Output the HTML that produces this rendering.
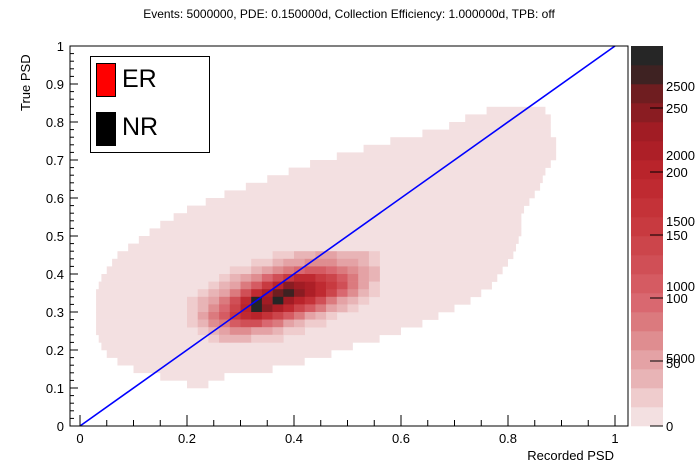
<!DOCTYPE html>
<html><head><meta charset="utf-8"><style>
body{margin:0;background:#fff;}
svg{display:block;font-family:"Liberation Sans",sans-serif;}
</style></head><body>
<svg id="c" width="698" height="474" xmlns="http://www.w3.org/2000/svg"></svg>
<script>
// envelope rows (light region): y value, xmin, xmax
const envY=[0.11,0.13,0.15,0.17,0.19,0.21,0.23,0.25,0.27,0.29,0.31,0.33,0.35,0.37,0.39,0.41,0.43,0.45,0.47,0.49,0.51,0.53,0.55,0.57,0.59,0.61,0.63,0.65,0.67,0.69,0.71,0.73,0.75,0.77,0.79,0.81,0.83];
const envMin=[0.20,0.15,0.10,0.07,0.05,0.04,0.035,0.03,0.03,0.03,0.03,0.03,0.03,0.035,0.04,0.05,0.06,0.07,0.09,0.11,0.13,0.15,0.175,0.20,0.235,0.27,0.31,0.35,0.39,0.43,0.48,0.53,0.58,0.64,0.69,0.72,0.76];
const envMax=[0.24,0.27,0.36,0.42,0.47,0.51,0.56,0.60,0.64,0.67,0.70,0.73,0.75,0.77,0.78,0.79,0.80,0.81,0.815,0.82,0.825,0.825,0.825,0.83,0.84,0.85,0.86,0.865,0.87,0.88,0.89,0.89,0.89,0.88,0.88,0.88,0.87];
// core region levels
const coreX=[0.20,0.22,0.24,0.26,0.28,0.30,0.32,0.34,0.36,0.38,0.40,0.42,0.44,0.46,0.48,0.50,0.52,0.54];
const coreY=[0.44,0.42,0.40,0.38,0.36,0.34,0.32,0.30,0.28,0.26,0.24,0.22];
const coreLv=[
[0,0,0,0,0,0,0,0,1,1,2,2,3,3,2,2,2,1],
[0,0,0,0,0,0,1,1,2,3,3,4,4,4,3,3,2,1],
[0,0,0,0,1,1,2,3,4,5,6,7,7,6,5,4,3,2],
[0,0,0,1,2,3,4,6,8,10,12,12,10,9,7,5,3,2],
[0,0,1,2,3,5,7,10,13,16,15,14,12,10,8,5,3,1],
[0,1,2,3,5,8,12,14,17,18,16,14,12,9,6,4,2,1],
[1,2,3,5,8,12,20,15,19,15,13,11,8,5,3,2,1,0],
[1,2,4,6,9,13,20,16,14,12,9,7,5,3,2,1,0,0],
[1,3,5,7,10,12,13,11,9,7,5,3,2,1,0,0,0,0],
[1,2,4,5,7,8,8,6,5,3,2,1,1,0,0,0,0,0],
[0,1,2,3,4,4,3,3,2,1,1,0,0,0,0,0,0,0],
[0,0,1,2,2,2,1,1,1,0,0,0,0,0,0,0,0,0]];
const pal=["#f3e0e1","#efcccd","#e8b4b6","#e4a2a5","#df8d90","#db7a7e","#d96870","#d55b62","#d04f56","#cc454b","#c83a40","#c43238","#bf2a31","#b9242b","#ad1f27","#a11c24","#8a1c22","#6f1d20","#3e2222","#262626"];
const xTicks=[0,0.2,0.4,0.6,0.8,1];
const yTicks=[0,0.1,0.2,0.3,0.4,0.5,0.6,0.7,0.8,0.9,1];
const palLabels=[["2500",86],["250",108],["2000",155],["200",172],["1500",221],["150",235],["1000",286],["100",298],["5000",358],["50",363],["0",426]];

const NS="http://www.w3.org/2000/svg",svg=document.getElementById('c');
const X=v=>80+v*535, Y=v=>426-v*380;
function mk(t,a,p){const e=document.createElementNS(NS,t);for(const k in a)e.setAttribute(k,a[k]);(p||svg).appendChild(e);return e;}
function txt(s,a){const e=mk('text',a);e.textContent=s;return e;}
const g=mk('g',{});
envY.forEach((y,i)=>{const r=mk('rect',{x:X(envMin[i]),y:Y(y+0.01),width:X(envMax[i])-X(envMin[i]),height:Y(y-0.01)-Y(y+0.01)+0.3,fill:pal[0]},g);
});
coreY.forEach((y,j)=>coreX.forEach((x,i)=>{const l=coreLv[j][i];if(!l)return;
const r=mk('rect',{x:X(x),y:Y(y+0.02),width:X(0.02)-X(0)+0.3,height:Y(0)-Y(0.02)+0.3,fill:pal[Math.min(l,19)]},g);
}));
// diagonal
const ln=mk('line',{x1:X(0),y1:Y(0),x2:X(1),y2:Y(1),stroke:'#0000ff','stroke-width':1.6});

// frame
const fr=mk('rect',{x:70,y:46,width:558,height:380,fill:'none',stroke:'#000','stroke-width':1});

// x ticks
for(let k=0;k<=20;k++){const v=k*0.05,big=k%4==0;mk('line',{x1:X(v),x2:X(v),y1:426,y2:big?415:420,stroke:'#000'});}
xTicks.forEach(v=>{const t=txt(String(v),{x:X(v),y:443,'text-anchor':'middle','font-size':13});});
// y ticks
for(let k=0;k<=50;k++){const v=k*0.02,big=k%5==0;mk('line',{x1:70,x2:big?78:74,y1:Y(v),y2:Y(v),stroke:'#000'});}
yTicks.forEach(v=>{const t=txt(String(v),{x:64,y:Y(v)+5,'text-anchor':'end','font-size':13});});
// palette
const pg=mk('g',{});
pal.forEach((c,i)=>mk('rect',{x:631,y:426-(i+1)*19,width:32,height:19.3,fill:c},pg));
[108,172,235,298,361,426].forEach(y=>mk('line',{x1:650,x2:663,y1:y,y2:y,stroke:'#000'},pg));
palLabels.forEach(([s,y])=>{const t=txt(s,{x:666,y:y+5,'font-size':13});});
</script>
<div style="position:absolute;left:0;top:0;width:698px;height:474px;pointer-events:none">
<div style="position:absolute;top:7px;left:0;width:698px;text-align:center;font:12px 'Liberation Sans',sans-serif;">Events: 5000000, PDE: 0.150000d, Collection Efficiency: 1.000000d, TPB: off</div>
<div style="position:absolute;left:18px;top:56px;font:13px 'Liberation Sans',sans-serif;transform-origin:0 0;transform:rotate(-90deg) translate(-55px,0);white-space:nowrap;">True PSD</div>
<div style="position:absolute;right:84px;top:448px;font:13px 'Liberation Sans',sans-serif;">Recorded PSD</div>
<div style="position:absolute;left:90px;top:56px;width:118px;height:95px;border:1px solid #000;background:#fff;font:25px 'Liberation Sans',sans-serif;">
<div><span style="position:absolute;left:5px;top:6px;width:20px;height:34px;background:#ff0000;border:1px solid #000;box-sizing:border-box"></span><span style="position:absolute;left:31px;top:8px">ER</span></div>
<div><span style="position:absolute;left:5px;top:55px;width:20px;height:34px;background:#000"></span><span style="position:absolute;left:31px;top:56px">NR</span></div>
</div>
</div>
</body></html>
